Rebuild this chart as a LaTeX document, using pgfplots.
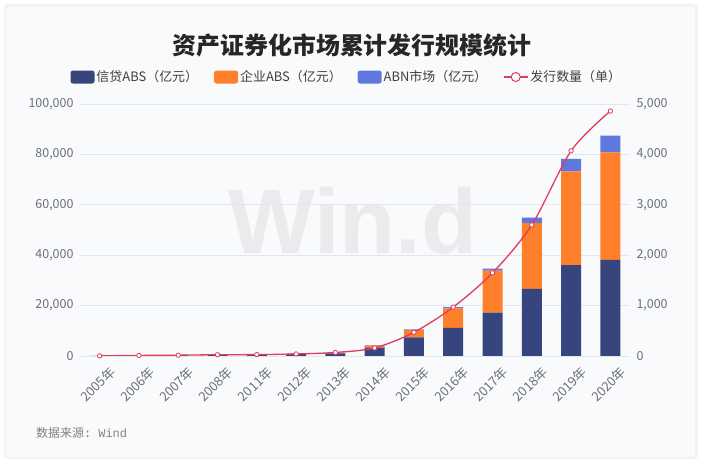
\documentclass[border=0pt]{standalone}
\usepackage{pgfplots}
\pgfplotsset{compat=1.18}
\usepackage{fontspec}
\setmainfont{Noto Sans CJK SC}
\setmonofont{Liberation Mono}
\newfontfamily\wmfont{Liberation Sans}

\definecolor{navy}{HTML}{36457D}
\definecolor{orng}{HTML}{FF7F2A}
\definecolor{lblue}{HTML}{5E78DE}
\definecolor{redl}{HTML}{E03C5C}
\definecolor{gridc}{HTML}{E3E6EC}
\definecolor{tickc}{HTML}{6E7079}
\definecolor{cardbg}{HTML}{F9FAFC}
\definecolor{wmark}{HTML}{EBEBEE}

\pgfplotsset{
  numfmt/.style={
    /pgf/number format/fixed,
    /pgf/number format/1000 sep={,},
    /pgf/number format/assume math mode=true},
}

\begin{document}
\begin{tikzpicture}[x=1bp,y=1bp]
% page and card
\fill[white] (0,0) rectangle (703,464);
\fill[black!5, rounded corners=4bp] (4,5) rectangle (698,460);
\fill[cardbg, rounded corners=3bp] (6,7) rectangle (695,457);
% watermark
\node[text=wmark, font=\wmfont\bfseries\fontsize{92}{92}\selectfont, inner sep=0pt] at (353,243) {Win.d};
% title
\node[font=\bfseries\fontsize{24}{28}\selectfont, text=black!85] at (352,419) {资产证券化市场累计发行规模统计};
% source
\node[anchor=west, font=\fontsize{12}{14}\selectfont, text=black!50, inner sep=0pt] at (36,31) {数据来源\texttt{: Wind}};

\begin{axis}[
  at={(80bp,108bp)}, anchor=south west,
  scale only axis, width=550bp, height=252bp,
  xmin=-0.5, xmax=13.5, ymin=0, ymax=100000,
  ybar stacked, bar width=20bp,
  xtick={0,...,13},
  xticklabels={2005年,2006年,2007年,2008年,2011年,2012年,2013年,2014年,2015年,2016年,2017年,2018年,2019年,2020年},
  ytick={0,20000,40000,60000,80000,100000},
  scaled y ticks=false,
  numfmt,
  yticklabel style={font=\fontsize{12.5}{14}\selectfont, text=tickc, xshift=-3bp},
  xticklabel style={font=\fontsize{13}{15}\selectfont, text=tickc, rotate=45, anchor=east, xshift=3bp, yshift=-19bp},
  ymajorgrids, grid style={gridc, line width=0.8bp},
  axis line style={draw=none},
  major tick length=0pt,
  legend columns=4,
  legend style={draw=none, fill=none, at={(0.485,1.107)}, anchor=center,
    font=\fontsize{13}{15}\selectfont, text=black!75,
    /tikz/every even column/.append style={column sep=14bp}},
]
\addplot+[fill=navy, draw=none,
  legend image code/.code={\fill[navy, rounded corners=2.5bp] (0bp,-6.5bp) rectangle (24bp,6.5bp);}]
  coordinates {(0,70) (1,190) (2,370) (3,670) (4,680) (5,870) (6,1030) (7,3300) (8,7400) (9,11200) (10,17200) (11,26600) (12,36100) (13,38100)};
\addplot+[fill=orng, draw=none,
  legend image code/.code={\fill[orng, rounded corners=2.5bp] (0bp,-6.5bp) rectangle (24bp,6.5bp);}]
  coordinates {(0,0) (1,20) (2,20) (3,20) (4,20) (5,50) (6,300) (7,900) (8,2900) (9,7700) (10,16700) (11,26100) (12,37200) (13,42700)};
\addplot+[fill=lblue, draw=none,
  legend image code/.code={\fill[lblue, rounded corners=2.5bp] (0bp,-6.5bp) rectangle (24bp,6.5bp);}]
  coordinates {(0,0) (1,0) (2,0) (3,0) (4,0) (5,0) (6,0) (7,100) (8,300) (9,500) (10,800) (11,2200) (12,4900) (13,6600)};
\addlegendimage{legend image code/.code={
  \draw[redl, line width=1.2bp] (0bp,0bp) -- (24bp,0bp);
  \draw[redl, fill=white, line width=1bp] (12bp,0bp) circle (4.5bp);}}
\legend{信贷ABS（亿元）,企业ABS（亿元）,ABN市场（亿元）,发行数量（单）}
\end{axis}

\begin{axis}[
  at={(80bp,108bp)}, anchor=south west,
  scale only axis, width=550bp, height=252bp,
  xmin=-0.5, xmax=13.5, ymin=0, ymax=5000,
  xtick=\empty,
  ytick={0,1000,2000,3000,4000,5000},
  yticklabel pos=right,
  scaled y ticks=false,
  numfmt,
  yticklabel style={font=\fontsize{12.5}{14}\selectfont, text=tickc, xshift=3bp},
  axis line style={draw=none},
  major tick length=0pt,
]
\addplot[redl, line width=1.3bp, smooth, tension=0.5, mark=*, mark size=2.2bp,
  mark options={fill=white, draw=redl, line width=0.8bp}]
  coordinates {(0,3) (1,11) (2,17) (3,25) (4,28) (5,40) (6,70) (7,160) (8,470) (9,970) (10,1650) (11,2600) (12,4070) (13,4860)};
\end{axis}
\end{tikzpicture}
\end{document}
